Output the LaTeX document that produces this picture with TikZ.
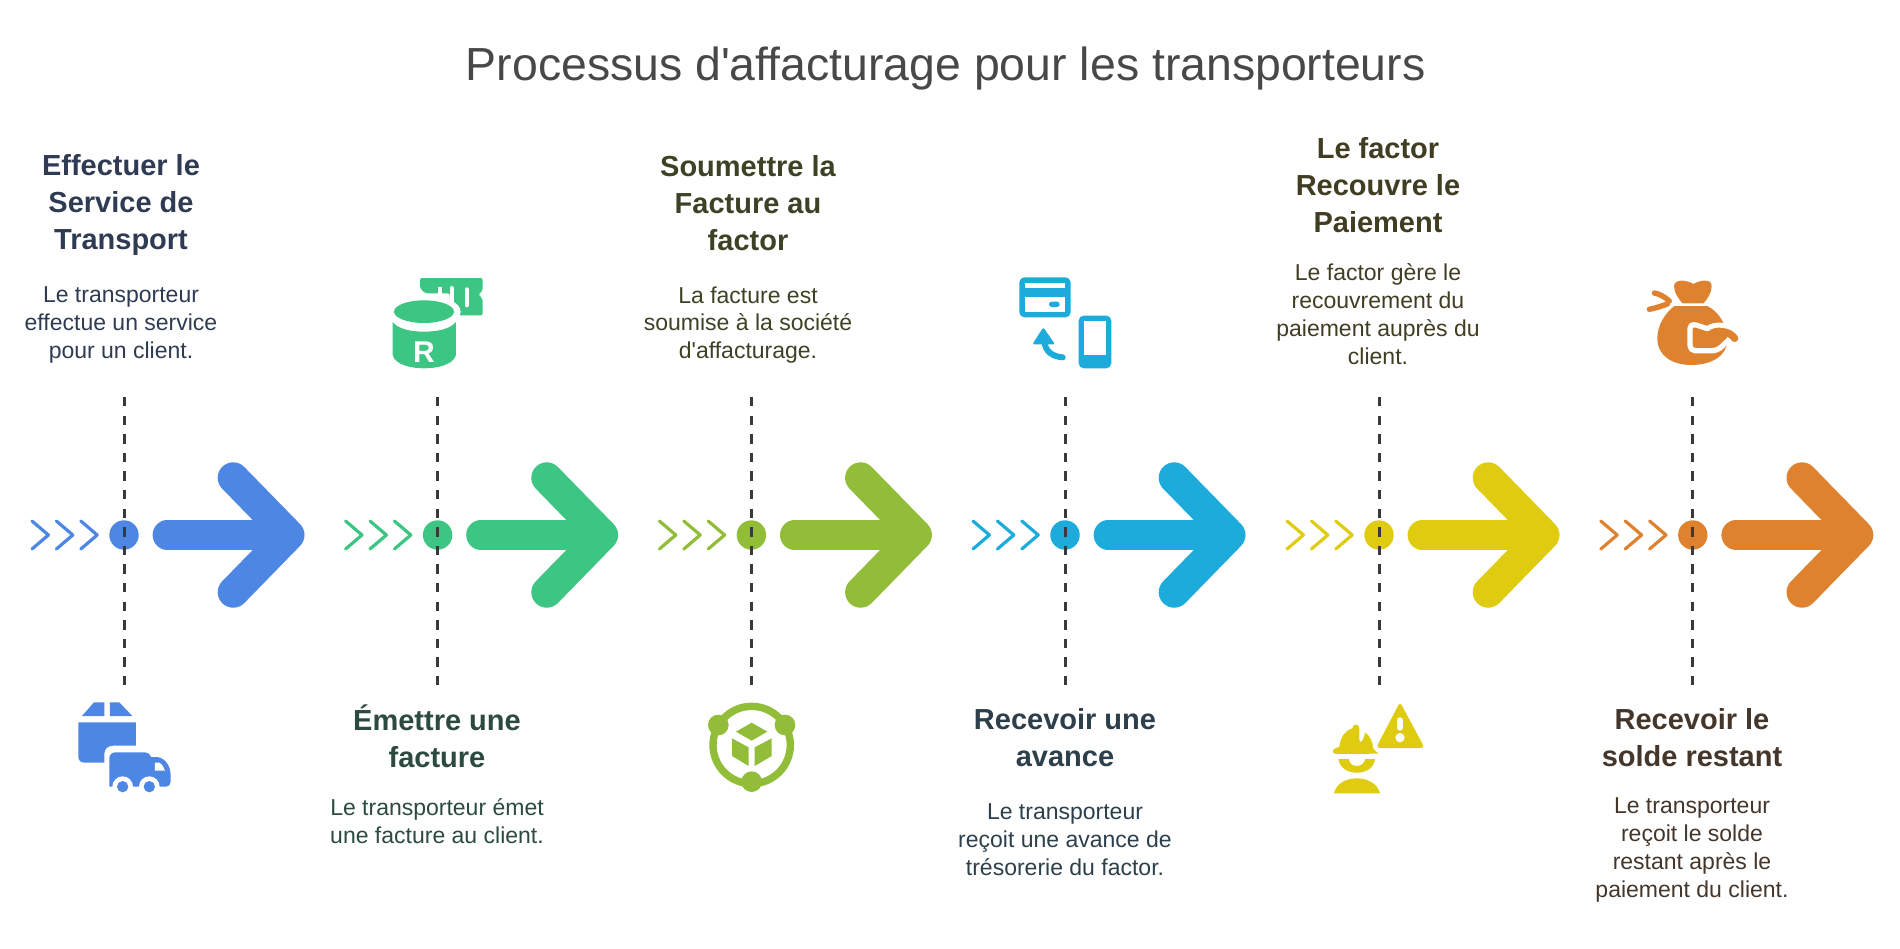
\documentclass[tikz,border=0pt]{standalone}
\usepackage{fontspec}
\newfontfamily\rb{Liberation Sans}
\definecolor{cA}{HTML}{4E86E4}
\definecolor{cB}{HTML}{3CC583}
\definecolor{cC}{HTML}{92BD39}
\definecolor{cD}{HTML}{1DABDB}
\definecolor{cE}{HTML}{DFCC10}
\definecolor{cF}{HTML}{DF8230}
\definecolor{tA}{HTML}{2F3B52}
\definecolor{tB}{HTML}{2C4A40}
\definecolor{tC}{HTML}{3F4126}
\definecolor{tD}{HTML}{2C3F4A}
\definecolor{tE}{HTML}{403D22}
\definecolor{tF}{HTML}{44362A}
\definecolor{ttl}{HTML}{484848}
\definecolor{dsh}{HTML}{3A3A3A}
\tikzset{
  titletext/.style={font=\rb\fontsize{46.4}{52}\selectfont,text=ttl,inner sep=0pt},
  headtext/.style={font=\rb\fontsize{29}{37}\selectfont\bfseries,align=center,inner sep=0pt},
  bodytext/.style={font=\rb\fontsize{23}{27.9}\selectfont,align=center,inner sep=0pt},
  guide/.style={dsh,line width=3pt,dash pattern=on 9.3pt off 9.3pt},
  dotmark/.style={circle,inner sep=0pt,minimum size=29.4pt},
  chev/.style={line width=3.2pt,line cap=round,line join=round},
  bigshaft/.style={line width=29.2pt,line cap=round,line join=round},
  bighead/.style={line width=31pt,line cap=round,line join=round},
  iconframe/.style={x=0.3333pt,y=-0.3333pt}
}
\newcommand{\stepmark}[3]{%
  % #1 index, #2 column x, #3 colour
  \coordinate (top#1) at (#2,397);
  \coordinate (bot#1) at (#2,685);
  \node[dotmark,fill=#3] (dot#1) at (#2,535) {};
  \draw[guide] (top#1) -- (bot#1);
  \foreach \dx in {-92,-67.6,-43.2}{
    \draw[chev,#3] (#2+\dx,521) -- (#2+\dx+16.4,535) -- (#2+\dx,549);
  }
  \coordinate (as#1) at (#2+43.2,535);
  \coordinate (at#1) at (#2+165,535);
  \coordinate (au#1) at (#2+109.2,477.8);
  \coordinate (ad#1) at (#2+109.2,592.2);
  \draw[bigshaft,#3] (as#1) -- (at#1);
  \draw[bighead,#3] (au#1) -- (at#1) -- (ad#1);
}
\begin{document}
\begin{tikzpicture}[x=1pt,y=-1pt]
\useasboundingbox (0,0) rectangle (1900,948);
\node[titletext] (title) at (945.7,69) {Processus d'affacturage pour les transporteurs};

\stepmark{1}{124}{cA}
\stepmark{2}{437.6}{cB}
\stepmark{3}{751.4}{cC}
\stepmark{4}{1065}{cD}
\stepmark{5}{1379}{cE}
\stepmark{6}{1692.8}{cF}

% texts
\node[headtext,text=tA] (h1) at (121,205) {Effectuer le\\Service de\\Transport};
\node[bodytext,text=tA] (b1) at (121,325) {Le transporteur\\effectue un service\\pour un client.};
\node[headtext,text=tB] (h2) at (437,736) {Émettre une\\facture};
\node[bodytext,text=tB] (b2) at (437,821) {Le transporteur émet\\une facture au client.};
\node[headtext,text=tC] (h3) at (748,203) {Soumettre la\\Facture au\\factor};
\node[bodytext,text=tC] (b3) at (748,325) {La facture est\\soumise à la société\\d'affacturage.};
\node[headtext,text=tD] (h4) at (1065,738) {Recevoir une\\avance};
\node[bodytext,text=tD] (b4) at (1065,840) {Le transporteur\\reçoit une avance de\\trésorerie du factor.};
\node[headtext,text=tE] (h5) at (1378,185) {Le factor\\Recouvre le\\Paiement};
\node[bodytext,text=tE] (b5) at (1378,314) {Le factor gère le\\recouvrement du\\paiement auprès du\\client.};
\node[headtext,text=tF] (h6) at (1692,738) {Recevoir le\\solde restant};
\node[bodytext,text=tF] (b6) at (1692,850) {Le transporteur\\reçoit le solde\\restant après le\\paiement du client.};

% icon 1 : box and truck
\begin{scope}[shift={(50,680)},iconframe]
  \fill[cA] (96,108) -- (132,67) -- (163,67) -- (163,108) -- cycle;
  \fill[cA] (180,67) -- (208,67) -- (247,108) -- (180,108) -- cycle;
  \fill[cA] (85,127) -- (258,127) -- (258,197) -- (190,197) .. controls (172,197) and (163,208) .. (163,222) -- (163,248) -- (103,248) .. controls (92,248) and (85,241) .. (85,230) -- cycle;
  \fill[cA] (178,320) -- (178,235) .. controls (178,224) and (186,217) .. (196,217) -- (285,217) .. controls (295,217) and (300,222) .. (303,231) -- (320,231) .. controls (345,233) and (362,258) .. (362,285) -- (362,305) .. controls (362,314) and (356,320) .. (348,320) -- cycle;
  \fill[white] (218,320) circle (31);
  \fill[white] (298,320) circle (31);
  \fill[white] (178,320) rectangle (362,345);
  \fill[cA] (218,320) circle (17);
  \fill[cA] (298,320) circle (17);
  \fill[white] (315,248) -- (328,248) .. controls (336,252) and (342,262) .. (345,272) -- (315,272) -- cycle;
\end{scope}

% icon 2 : ticket and cylinder
\begin{scope}[shift={(370,260)},iconframe]
  \fill[cB,rounded corners=2pt] (150,54) -- (338,54) -- (338,92) -- (325,104) -- (338,116) -- (338,166) -- (240,166) -- (240,100) -- (165,100) -- (150,84) -- cycle;
  \fill[white] (204,80) rectangle (216,104);
  \draw[white,line width=4pt,line cap=round] (245,84) -- (245,130);
  \draw[white,line width=4pt,line cap=round] (290,88) -- (290,136);
  \fill[white] (162,155) ellipse (110 and 50);
  \fill[cB] (162,155) ellipse (90 and 34);
  \fill[cB] (68,186) .. controls (85,208) and (125,215) .. (162,215) .. controls (200,215) and (240,208) .. (258,186) -- (258,285) .. controls (250,315) and (200,325) .. (162,325) .. controls (125,325) and (75,315) .. (68,285) -- cycle;
  \node[text=white,font=\rb\fontsize{30}{30}\selectfont\bfseries,inner sep=0pt] (letterR) at (162,277) {R};
\end{scope}

% icon 3 : ring and cube
\begin{scope}[shift={(690,690)},iconframe]
  \draw[cC,line width=7.4pt] (185,165) circle (116);
  \fill[cC] (85,105) circle (31);
  \fill[cC] (285,105) circle (31);
  \fill[cC] (185,275) circle (31);
  \fill[cC] (185,98) -- (232,125) -- (185,152) -- (138,125) -- cycle;
  \fill[cC] (126,145) -- (176,172) -- (176,228) -- (126,198) -- cycle;
  \fill[cC] (245,145) -- (194,172) -- (194,228) -- (245,198) -- cycle;
\end{scope}

% icon 4 : card, phone, arrow
\begin{scope}[shift={(1000,265)},iconframe]
  \fill[cD,rounded corners=5pt] (58,37) rectangle (212,157);
  \fill[white] (74,53) rectangle (196,70);
  \fill[white] (74,97) rectangle (196,141);
  \fill[cD,rounded corners=2.6pt] (147,110) rectangle (179,126);
  \fill[cD,rounded corners=5pt] (236,152) rectangle (334,310);
  \fill[white] (253,167) rectangle (318,270);
  \draw[cD,line width=6pt,line cap=round] (188,277) .. controls (160,275) and (135,262) .. (132,225);
  \fill[cD,rounded corners=2pt] (130,187) -- (165,238) -- (97,238) -- cycle;
\end{scope}

% icon 5 : helmet and warning
\begin{scope}[shift={(1310,690)},iconframe]
  \fill[cE,rounded corners=3.5pt] (270,36) -- (344,174) -- (198,174) -- cycle;
  \draw[white,line width=6.8pt,line cap=round] (270,92) -- (270,112);
  \fill[white] (270,143) circle (14);
  \fill[cE] (72,177) -- (88,170) .. controls (92,140) and (105,122) .. (127,115) .. controls (127,100) and (148,100) .. (148,115) -- (148,150) .. controls (150,160) and (160,158) .. (165,127) .. controls (182,138) and (188,160) .. (190,175) .. controls (195,182) and (200,188) .. (206,191) -- (80,192) .. controls (68,192) and (66,182) .. (72,177) -- cycle;
  \fill[cE] (85,207) -- (116,207) .. controls (120,235) and (160,235) .. (166,207) -- (195,207) .. controls (190,262) and (92,262) .. (85,207) -- cycle;
  \fill[cE] (72,310) .. controls (85,250) and (195,250) .. (210,310) -- cycle;
\end{scope}

% icon 6 : money bag
\begin{scope}[shift={(1630,270)},iconframe]
  \fill[cF] (132,48) .. controls (135,25) and (170,30) .. (190,42) .. controls (210,30) and (245,25) .. (245,48) .. controls (245,70) and (230,90) .. (220,100) -- (158,100) .. controls (148,90) and (132,70) .. (132,48) -- cycle;
  \draw[cF,line width=5.4pt,line cap=round] (73,69) .. controls (90,72) and (105,82) .. (118,93);
  \draw[cF,line width=5.4pt,line cap=round] (58,118) .. controls (75,115) and (95,108) .. (112,102);
  \fill[cF] (133,108) -- (232,108) .. controls (265,125) and (290,160) .. (292,210) .. controls (292,260) and (240,285) .. (185,285) .. controls (130,285) and (82,260) .. (82,205) .. controls (82,165) and (105,130) .. (133,108) -- cycle;
  \draw[white,line width=5.3pt,line cap=round,line join=round,rounded corners=5pt] (232,176) -- (180,160) -- (180,242) -- (262,242) -- (296,210);
  \draw[white,line width=5pt,line cap=round] (232,176) .. controls (255,160) and (285,160) .. (330,190);
  \draw[cF,line width=7.3pt,line cap=round] (232,205) .. controls (262,178) and (295,180) .. (314,205);
  \fill[cF,rounded corners=1pt] (193,172) -- (246,190) -- (198,232) -- cycle;
\end{scope}
\end{tikzpicture}
\end{document}
